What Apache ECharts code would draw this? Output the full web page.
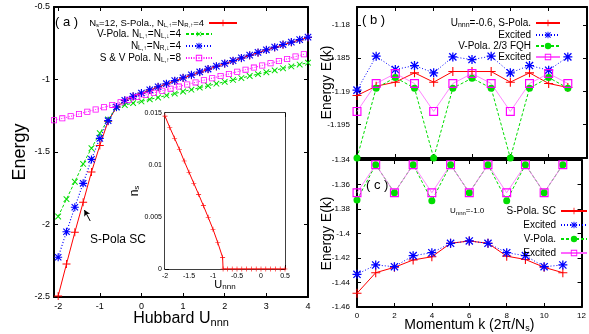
<!DOCTYPE html>
<html>
<head>
<meta charset="utf-8">
<script src="https://cdn.jsdelivr.net/npm/echarts@6/dist/echarts.min.js"></script>
<style>
html, body { margin: 0; padding: 0; background: #fff; }
#main { width: 589px; height: 334px; }
</style>
</head>
<body>
<div id="main"></div>
<script>
// ---- panel (a): energy vs Hubbard U_nnn ----
var uGrid = [-2, -1.8, -1.6, -1.4, -1.2, -1, -0.8, -0.6, -0.4, -0.2, 0, 0.2, 0.4, 0.6, 0.8, 1,
  1.2, 1.4, 1.6, 1.8, 2, 2.2, 2.4, 2.6, 2.8, 3, 3.2, 3.4, 3.6, 3.8, 4];
var eSPola = [-2.493, -2.272, -2.054, -1.847, -1.638, -1.455, -1.288, -1.192, -1.145, -1.118, -1.095,
  -1.073, -1.052, -1.031, -1.010, -0.990, -0.970, -0.950, -0.930, -0.910, -0.891, -0.872, -0.853,
  -0.834, -0.815, -0.797, -0.779, -0.761, -0.744, -0.727, -0.710];
var eVPola = [-1.945, -1.825, -1.705, -1.582, -1.474, -1.370, -1.276, -1.192, -1.176, -1.163, -1.151,
  -1.137, -1.124, -1.110, -1.097, -1.083, -1.070, -1.056, -1.043, -1.029, -1.016, -1.003, -0.990,
  -0.976, -0.963, -0.950, -0.937, -0.923, -0.910, -0.897, -0.884];
var eLRdown = [-2.226, -2.050, -1.881, -1.716, -1.551, -1.406, -1.284, -1.190, -1.143, -1.116, -1.093,
  -1.071, -1.050, -1.029, -1.008, -0.988, -0.968, -0.948, -0.928, -0.908, -0.889, -0.870, -0.851,
  -0.832, -0.813, -0.795, -0.777, -0.759, -0.742, -0.725, -0.708];
var uSV = [-2.1, -1.9, -1.7, -1.5, -1.3, -1.1, -0.9, -0.7, -0.5, -0.3, -0.1, 0.1, 0.3, 0.5, 0.7, 0.9,
  1.1, 1.3, 1.5, 1.7, 1.9, 2.1, 2.3, 2.5, 2.7, 2.9, 3.1, 3.3, 3.5, 3.7, 3.9];
var eSV = [-1.281, -1.268, -1.254, -1.238, -1.222, -1.207, -1.192, -1.175, -1.157, -1.139, -1.121,
  -1.107, -1.092, -1.078, -1.063, -1.049, -1.034, -1.020, -1.005, -0.991, -0.976, -0.962, -0.947,
  -0.932, -0.918, -0.903, -0.888, -0.873, -0.858, -0.842, -0.826];
var aTicks = [-2, -1, 0, 1, 2, 3, 4];

// inset: n_s vs U_nnn
var uInset = [-2, -1.9, -1.8, -1.7, -1.6, -1.5, -1.4, -1.3, -1.2, -1.1, -1, -0.9, -0.8, -0.79,
  -0.7, -0.6, -0.5, -0.4, -0.3, -0.2, -0.1, 0, 0.1, 0.2, 0.3, 0.4, 0.5];
var nsInset = [0.0147, 0.0136, 0.01257, 0.01151, 0.01038, 0.0093, 0.00824, 0.00718, 0.00609,
  0.00497, 0.00382, 0.00253, 0.00112, 0, 0, 0, 0, 0, 0, 0, 0, 0, 0, 0, 0, 0, 0];

// ---- panels (b) and (c): E(k) vs momentum ----
var kMom = [0, 1, 2, 3, 4, 5, 6, 7, 8, 9, 10, 11];
var bS  = [-1.1906, -1.1892, -1.1886, -1.1872, -1.1886, -1.1870, -1.1870, -1.1870, -1.1886, -1.1872, -1.1888, -1.1894];
var bSx = [-1.1898, -1.1847, -1.1867, -1.1861, -1.1872, -1.1848, -1.1852, -1.1847, -1.1872, -1.1861, -1.1868, -1.1848];
var bV  = [-1.2000, -1.1895, -1.1879, -1.1895, -1.2000, -1.1895, -1.1880, -1.1895, -1.2000, -1.1895, -1.1879, -1.1895];
var bVx = [-1.1930, -1.1888, -1.1873, -1.1888, -1.1930, -1.1888, -1.1873, -1.1888, -1.1930, -1.1888, -1.1873, -1.1888];
var cS  = [-1.4488, -1.4320, -1.4276, -1.4216, -1.4190, -1.4080, -1.4061, -1.4080, -1.4185, -1.4212, -1.4276, -1.4320];
var cSx = [-1.4333, -1.4257, -1.4271, -1.4181, -1.4157, -1.4080, -1.4061, -1.4080, -1.4157, -1.4181, -1.4271, -1.4257];
var cV  = [-1.3727, -1.3438, -1.3667, -1.3438, -1.3732, -1.3438, -1.3667, -1.3438, -1.3732, -1.3438, -1.3667, -1.3438];
var cVx = [-1.3667, -1.3438, -1.3667, -1.3438, -1.3667, -1.3438, -1.3667, -1.3438, -1.3667, -1.3438, -1.3667, -1.3438];

var FONT = 'Liberation Sans, Arial, sans-serif';
var RED = '#ff0000', GREEN = '#00dd00', BLUE = '#0000ff', MAG = '#ff00ff';
var SYM_PLUS = 'path://M0,4.4H10V5.6H0ZM4.4,0H5.6V10H4.4Z';
var SYM_STAR = 'path://M0,4.3H10V5.7H0ZM4.3,0H5.7V10H4.3ZM1.5,0.5L9.5,8.5L8.5,9.5L0.5,1.5ZM8.5,0.5L9.5,1.5L1.5,9.5L0.5,8.5Z';
var SYM_BOX = 'path://M0,0H10V10H0ZM1.3,1.3V8.7H8.7V1.3Z';

var labelText = {
  aS: 'N{s|s}=12, S-Pola., N{s|L,\u2191}=N{s|R,\u2191}=4',
  aV: 'V-Pola. N{s|L,\u2191}=N{s|L,\u2193}=4',
  aD: 'N{s|L,\u2191}=N{s|R,\u2193}=4',
  aSV: 'S & V Pola. N{s|L,\u2191}=8',
  bS: 'U{s|nnn}=-0.6, S-Pola.',
  bSx: 'Excited',
  bV: 'V-Pola. 2/3 FQH',
  bVx: 'Excited',
  cS: '{u|U}{us|nnn}{u|=-1.0}        S-Pola. SC',
  cSx: 'Excited',
  cV: 'V-Pola.',
  cVx: 'Excited'
};

function line(name, xs, ys, idx, color, type, width, symbol, size, rot) {
  return {
    name: name, type: 'line', xAxisIndex: idx, yAxisIndex: idx,
    data: xs.map(function (x, i) { return [x, ys[i]]; }),
    symbol: symbol, symbolSize: size, symbolRotate: rot || 0,
    showAllSymbol: true,
    lineStyle: { color: color, width: width, type: type },
    itemStyle: { color: color, borderWidth: 0 },
    emphasis: { disabled: true }
  };
}

function ax(grid, pos, min, max, interval, lab) {
  return {
    type: 'value', gridIndex: grid, position: pos, min: min, max: max, interval: interval,
    axisLine: { show: true, onZero: false, lineStyle: { color: '#000', width: 2 } },
    axisTick: { show: true, inside: true, length: 4, lineStyle: { color: '#000', width: 1 } },
    axisLabel: { show: !!lab, color: '#000', fontFamily: FONT, fontSize: lab ? lab.size : 9, margin: lab ? lab.margin : 4 },
    splitLine: { show: false },
    nameMoveOverlap: false
  };
}

function legend(names, right, top, gap, size, w, sub) {
  return {
    data: names, orient: 'vertical', align: 'right', right: right, top: top, padding: 0,
    itemGap: gap, itemWidth: w, itemHeight: 8, selectedMode: false,
    formatter: function (n) { return labelText[n]; },
    textStyle: {
      fontFamily: FONT, fontSize: size, color: '#000',
      rich: {
        s: { fontFamily: FONT, fontSize: sub, padding: [5, 0, 0, 0] },
        u: { fontFamily: FONT, fontSize: 8 },
        us: { fontFamily: FONT, fontSize: 6, padding: [4, 0, 0, 0] }
      }
    }
  };
}

var subRich = function (big, small, pad) {
  return {
    t: { fontFamily: FONT, fontSize: big, color: '#000' },
    ts: { fontFamily: FONT, fontSize: small, color: '#000', padding: [pad, 0, 0, 0] }
  };
};

// axes: 0/1 panel a, 2/3 inset, 4/5 panel b, 6/7 panel c
var xa = ax(0, 'bottom', -2.1, 4, 1, { size: 9, margin: 5 });
xa.axisLabel.customValues = aTicks;
xa.axisTick.customValues = aTicks;
xa.name = '{t|Hubbard U}{ts|nnn}';
xa.nameLocation = 'middle'; xa.nameGap = 13;
xa.nameTextStyle = { rich: subRich(16, 11, 7) };
var xaTop = ax(0, 'top', -2.1, 4, 1, null);
xaTop.axisTick.customValues = aTicks;

var xIn = ax(1, 'bottom', -2, 0.5, 0.5, { size: 7, margin: 4 });
xIn.axisLine.lineStyle.width = 1.5;
xIn.name = '{t|U}{ts|nnn}'; xIn.nameLocation = 'middle'; xIn.nameGap = 9;
xIn.nameTextStyle = { rich: subRich(11, 8, 5) };
var xInTop = ax(1, 'top', -2, 0.5, 0.5, null);
xInTop.axisLine.lineStyle.width = 1.5;

var xb = ax(2, 'bottom', 0, 12, 2, null);
var xbTop = ax(2, 'top', 0, 12, 2, null);
var xc = ax(3, 'bottom', 0, 12, 2, { size: 8, margin: 5 });
xc.name = '{t|Momentum k (2\u03c0/N}{ts|s}{t|)}'; xc.nameLocation = 'middle'; xc.nameGap = 11;
xc.nameTextStyle = { rich: subRich(14, 9, 6) };
var xcTop = ax(3, 'top', 0, 12, 2, null);

var ya = ax(0, 'left', -2.5, -0.5, 0.5, { size: 9, margin: 4 });
ya.name = 'Energy'; ya.nameLocation = 'middle'; ya.nameGap = 25;
ya.nameTextStyle = { fontFamily: FONT, fontSize: 18, color: '#000' };
var yaR = ax(0, 'right', -2.5, -0.5, 0.5, null);

var yIn = ax(1, 'left', 0, 0.015, 0.005, { size: 7, margin: 3 });
yIn.axisLine.lineStyle.width = 1.5;
yIn.name = '{t|n}{ts|s}'; yIn.nameLocation = 'middle'; yIn.nameGap = 24;
yIn.nameTextStyle = { rich: subRich(12, 8, 5) };
var yInR = ax(1, 'right', 0, 0.015, 0.005, null);
yInR.axisLine.lineStyle.width = 1.5;

var yb = ax(2, 'left', -1.2, -1.1773, 0.005, { size: 8, margin: 7 });
yb.axisLabel.showMinLabel = false; yb.axisLabel.showMaxLabel = false;
yb.name = 'Energy E(k)'; yb.nameLocation = 'middle'; yb.nameGap = 23;
yb.nameTextStyle = { fontFamily: FONT, fontSize: 14, color: '#000' };
var ybR = ax(2, 'right', -1.2, -1.1773, 0.005, null);

var yc = ax(3, 'left', -1.46, -1.34, 0.02, { size: 8, margin: 7 });
yc.name = 'Energy E(k)'; yc.nameLocation = 'middle'; yc.nameGap = 23;
yc.nameTextStyle = { fontFamily: FONT, fontSize: 14, color: '#000' };
var ycR = ax(3, 'right', -1.46, -1.34, 0.02, null);

var sRed = line('aS', uGrid, eSPola, 0, RED, 'solid', 1, SYM_PLUS, 8);
sRed.markLine = {
  silent: true, symbol: ['none', 'arrow'], symbolSize: [5, 6],
  lineStyle: { color: '#000', width: 1, type: 'solid' }, label: { show: false },
  data: [[{ coord: [-1.23, -1.976] }, { coord: [-1.37, -1.9] }]]
};

var option = {
  animation: false,
  backgroundColor: '#fff',
  textStyle: { fontFamily: FONT },
  grid: [
    { left: 54, top: 7, width: 254, height: 290 },
    { left: 165, top: 113, width: 120, height: 156, show: true, backgroundColor: '#fff', borderWidth: 0, z: 5 },
    { left: 357, top: 7, width: 230, height: 151 },
    { left: 357, top: 160, width: 230, height: 147 }
  ],
  xAxis: [xa, xaTop, xIn, xInTop, xb, xbTop, xc, xcTop],
  yAxis: [ya, yaR, yIn, yInR, yb, ybR, yc, ycR],
  legend: [
    legend(['aS'], 351, 18, 0, 9.5, 28, 6),
    legend(['aV', 'aD', 'aSV'], 376, 29, 1, 10, 26, 6.5),
    legend(['bS', 'bSx', 'bV', 'bVx'], 28, 18, 1, 10, 24, 7),
    legend(['cS', 'cSx', 'cV', 'cVx'], 1, 206, 4, 10, 26, 7)
  ],
  graphic: [
    { type: 'text', left: 55, top: 16, style: { text: '( a )', font: '13px ' + FONT, fill: '#000' } },
    { type: 'text', left: 90, top: 234, style: { text: 'S-Pola SC', font: '12px ' + FONT, fill: '#000' } },
    { type: 'text', left: 362, top: 14, style: { text: '( b )', font: '13px ' + FONT, fill: '#000' } },
    { type: 'text', left: 366, top: 179, style: { text: '( c )', font: '13px ' + FONT, fill: '#000' } }
  ],
  series: [
    sRed,
    line('aV', uGrid, eVPola, 0, GREEN, [3, 2], 1, SYM_PLUS, 8, 45),
    line('aD', uGrid, eLRdown, 0, BLUE, [1, 2], 1.2, SYM_STAR, 8),
    line('aSV', uSV, eSV, 0, MAG, [1, 1.5], 1, SYM_BOX, 6),
    line('ns', uInset, nsInset, 2, RED, 'solid', 1, SYM_PLUS, 5),
    line('bS', kMom, bS, 4, RED, 'solid', 1, SYM_PLUS, 9),
    line('bSx', kMom, bSx, 4, BLUE, [1, 2], 1, SYM_STAR, 9),
    line('bV', kMom, bV, 4, GREEN, [3, 2], 1, 'circle', 7),
    line('bVx', kMom, bVx, 4, '#ff66ff', 'solid', 0.8, SYM_BOX, 9),
    line('cS', kMom, cS, 6, RED, 'solid', 1, SYM_PLUS, 9),
    line('cSx', kMom, cSx, 6, BLUE, [1, 2], 1, SYM_STAR, 9),
    line('cV', kMom, cV, 6, GREEN, [3, 2], 1, 'circle', 7),
    line('cVx', kMom, cVx, 6, '#ff66ff', 'solid', 0.8, SYM_BOX, 9)
  ]
};
option.series[4].z = 6;
option.series[8].itemStyle.color = MAG;
option.series[12].itemStyle.color = MAG;

var chart = echarts.init(document.getElementById('main'), null, { renderer: 'canvas' });
chart.setOption(option);
</script>
</body>
</html>
